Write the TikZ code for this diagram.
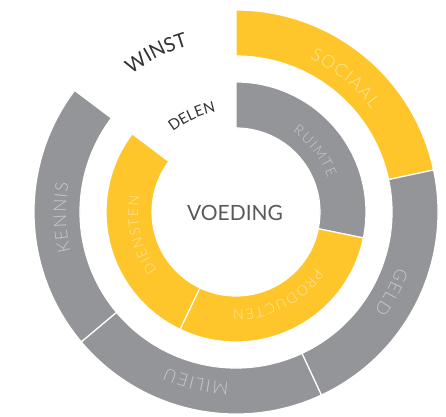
\documentclass[tikz,border=0pt]{standalone}
\usepackage{fontspec}
\setmainfont{Lato}
\newfontfamily\lightfont{Lato Light}
\usetikzlibrary{decorations.text}

\definecolor{ringyellow}{HTML}{FEC62A}
\definecolor{ringgray}{HTML}{939598}
\definecolor{labelyellow}{HTML}{FFE7A3}
\definecolor{labelgray}{HTML}{C9CACC}
\definecolor{darktext}{HTML}{333335}
\definecolor{midtext}{HTML}{58595B}

\begin{document}
\begin{tikzpicture}[
    ringpart/.style={fill=#1,draw=white,line width=1.2pt},
    ringlabel/.style n args={3}{decorate,decoration={text along path,text align=center,text color=#1,
        text={|\lightfont\fontsize{#2}{#2}\selectfont\kern1.5pt|#3}}},
    darklabel/.style n args={2}{decorate,decoration={text along path,text align=center,text color=darktext,
        text={|\fontsize{#1}{#1}\selectfont|#2}}}]
    \useasboundingbox (-236pt,-204pt) rectangle (210pt,212pt);

    % outer ring
    \foreach \col/\a/\b in {ringyellow/90/12,ringgray/12/-65,ringgray/-65/-140,ringgray/-140/-217}
        \path[ringpart=\col] (\a:202pt) arc[start angle=\a,end angle=\b,radius=202pt]
            -- (\b:156pt) arc[start angle=\b,end angle=\a,radius=156pt] -- cycle;
    % inner ring
    \foreach \col/\a/\b in {ringgray/90/-11.5,ringyellow/-11.5/-115.5,ringyellow/-115.5/-217}
        \path[ringpart=\col] (\a:130pt) arc[start angle=\a,end angle=\b,radius=130pt]
            -- (\b:84pt) arc[start angle=\b,end angle=\a,radius=84pt] -- cycle;

    \path[ringlabel={labelyellow}{17.5pt}{SOCIAAL}] (101:170pt) arc[start angle=101,end angle=1,radius=170pt];
    \path[ringlabel={labelgray}{17.5pt}{GELD}] (23:170pt) arc[start angle=23,end angle=-77,radius=170pt];
    \path[ringlabel={labelgray}{17.5pt}{MILIEU}] (-53:170pt) arc[start angle=-53,end angle=-153,radius=170pt];
    \path[ringlabel={labelgray}{17.5pt}{KENNIS}] (232:170pt) arc[start angle=232,end angle=132,radius=170pt];

    \path[ringlabel={labelgray}{14pt}{RUIMTE}] (98:98pt) arc[start angle=98,end angle=-22,radius=98pt];
    \path[ringlabel={labelyellow}{14pt}{PRODUCTEN}] (-3:98pt) arc[start angle=-3,end angle=-123,radius=98pt];
    \path[ringlabel={labelyellow}{14pt}{DIENSTEN}] (254:98pt) arc[start angle=254,end angle=134,radius=98pt];

    \path[darklabel={20pt}{WINST}] (166.6:173pt) arc[start angle=166.6,end angle=66.6,radius=173pt];
    \path[darklabel={15pt}{DELEN}] (164.8:102pt) arc[start angle=164.8,end angle=64.8,radius=102pt];

    \node[text=midtext,font=\fontsize{21pt}{21pt}\selectfont] (voeding) at (-1pt,-1pt) {VOEDING};
\end{tikzpicture}
\end{document}
